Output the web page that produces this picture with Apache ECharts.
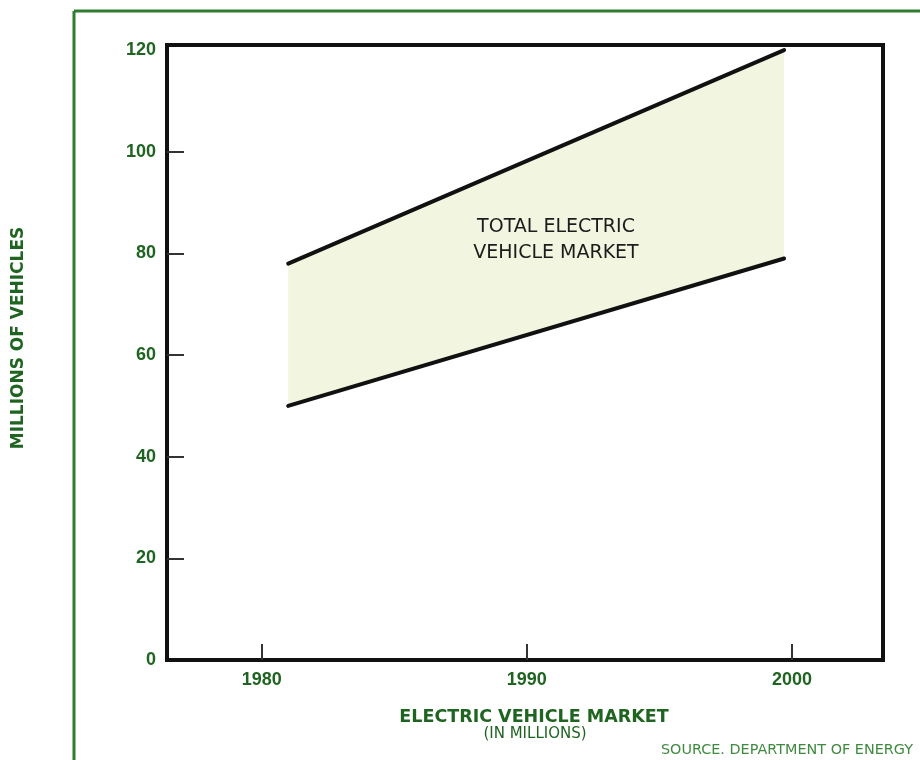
<!DOCTYPE html>
<html>
<head>
<meta charset="utf-8">
<script src="https://cdn.jsdelivr.net/npm/echarts@6/dist/echarts.min.js"></script>
<style>
  html, body { margin: 0; padding: 0; background: #fff; }
  #chart { width: 920px; height: 760px; }
</style>
</head>
<body>
<div id="chart"></div>
<script>
// Projected electric vehicle market band (millions of vehicles)
var years = [1981, 1999.7];
var upperBound = [78, 120];
var lowerBound = [50, 79];
var yearTicks = [1980, 1990, 2000];
var valueTicks = [0, 20, 40, 60, 80, 100, 120];

var GREEN = '#1f6420';
var TICK_FONT = '"Liberation Sans", Arial, sans-serif';
var FONT = '"DejaVu Sans", Verdana, sans-serif';

var chart = echarts.init(document.getElementById('chart'));

function bandPoints(api) {
  var pts = [];
  for (var i = 0; i < years.length; i++) pts.push(api.coord([years[i], upperBound[i]]));
  for (var j = years.length - 1; j >= 0; j--) pts.push(api.coord([years[j], lowerBound[j]]));
  return pts;
}

chart.setOption({
  animation: false,
  backgroundColor: '#fff',
  grid: {
    left: 167, right: 37, top: 45, bottom: 100,
    show: true, borderColor: '#111', borderWidth: 4, backgroundColor: 'transparent'
  },
  xAxis: {
    type: 'value',
    min: 1976.43, max: 2003.43,
    axisLine: { show: false },
    splitLine: { show: false },
    axisTick: {
      show: true, inside: true, length: 16, customValues: yearTicks,
      lineStyle: { color: '#333', width: 2 }
    },
    axisLabel: {
      customValues: yearTicks, margin: 11,
      color: GREEN, fontSize: 18, fontWeight: 'bold', fontFamily: TICK_FONT,
      formatter: function (v) { return String(v); }
    }
  },
  yAxis: {
    type: 'value',
    min: 0, max: 121,
    axisLine: { show: false },
    splitLine: { show: false },
    axisTick: {
      show: true, inside: true, length: 17, customValues: valueTicks.slice(1, -1),
      lineStyle: { color: '#333', width: 2 }
    },
    axisLabel: {
      customValues: valueTicks, margin: 11,
      color: GREEN, fontSize: 18, fontWeight: 'bold', fontFamily: TICK_FONT
    }
  },
  series: [
    {
      type: 'custom',
      z: 1,
      silent: true,
      data: [[years[0], lowerBound[0]]],
      renderItem: function (params, api) {
        return {
          type: 'polygon',
          shape: { points: bandPoints(api) },
          style: { fill: '#f2f5e0' }
        };
      }
    },
    {
      name: 'upper',
      type: 'line',
      z: 3,
      symbol: 'none',
      data: years.map(function (y, i) { return [y, upperBound[i]]; }),
      lineStyle: { color: '#111', width: 4, cap: 'round' }
    },
    {
      name: 'lower',
      type: 'line',
      z: 3,
      symbol: 'none',
      data: years.map(function (y, i) { return [y, lowerBound[i]]; }),
      lineStyle: { color: '#111', width: 4, cap: 'round' }
    }
  ],
  graphic: [
    { type: 'line', z: 100, shape: { x1: 74, y1: 11, x2: 74, y2: 760 }, style: { stroke: '#2f7d2f', lineWidth: 3 } },
    { type: 'line', z: 100, shape: { x1: 74, y1: 11, x2: 920, y2: 11 }, style: { stroke: '#2f7d2f', lineWidth: 3 } },
    {
      type: 'text', z: 100, x: 556, y: 227,
      style: {
        text: 'TOTAL ELECTRIC',
        fill: '#1c1c1c', font: '19px ' + FONT,
        textAlign: 'center', textVerticalAlign: 'middle'
      }
    },
    {
      type: 'text', z: 100, x: 556, y: 253,
      style: {
        text: 'VEHICLE MARKET',
        fill: '#1c1c1c', font: '19px ' + FONT,
        textAlign: 'center', textVerticalAlign: 'middle'
      }
    },
    {
      type: 'text', z: 100, x: 534, y: 717,
      style: {
        text: 'ELECTRIC VEHICLE MARKET',
        fill: GREEN, font: 'bold 17.5px ' + FONT,
        textAlign: 'center', textVerticalAlign: 'middle'
      }
    },
    {
      type: 'text', z: 100, x: 535, y: 734,
      style: {
        text: '(IN MILLIONS)',
        fill: GREEN, font: '15px ' + FONT,
        textAlign: 'center', textVerticalAlign: 'middle'
      }
    },
    {
      type: 'text', z: 100, x: 19, y: 338, rotation: Math.PI / 2,
      style: {
        text: 'MILLIONS OF VEHICLES',
        fill: GREEN, font: 'bold 17px ' + FONT,
        textAlign: 'center', textVerticalAlign: 'middle'
      }
    },
    {
      type: 'text', z: 100, x: 913, y: 750,
      style: {
        text: 'SOURCE. DEPARTMENT OF ENERGY',
        fill: '#3f8a3f', font: '14.4px ' + FONT,
        textAlign: 'right', textVerticalAlign: 'middle'
      }
    }
  ]
});
</script>
</body>
</html>
